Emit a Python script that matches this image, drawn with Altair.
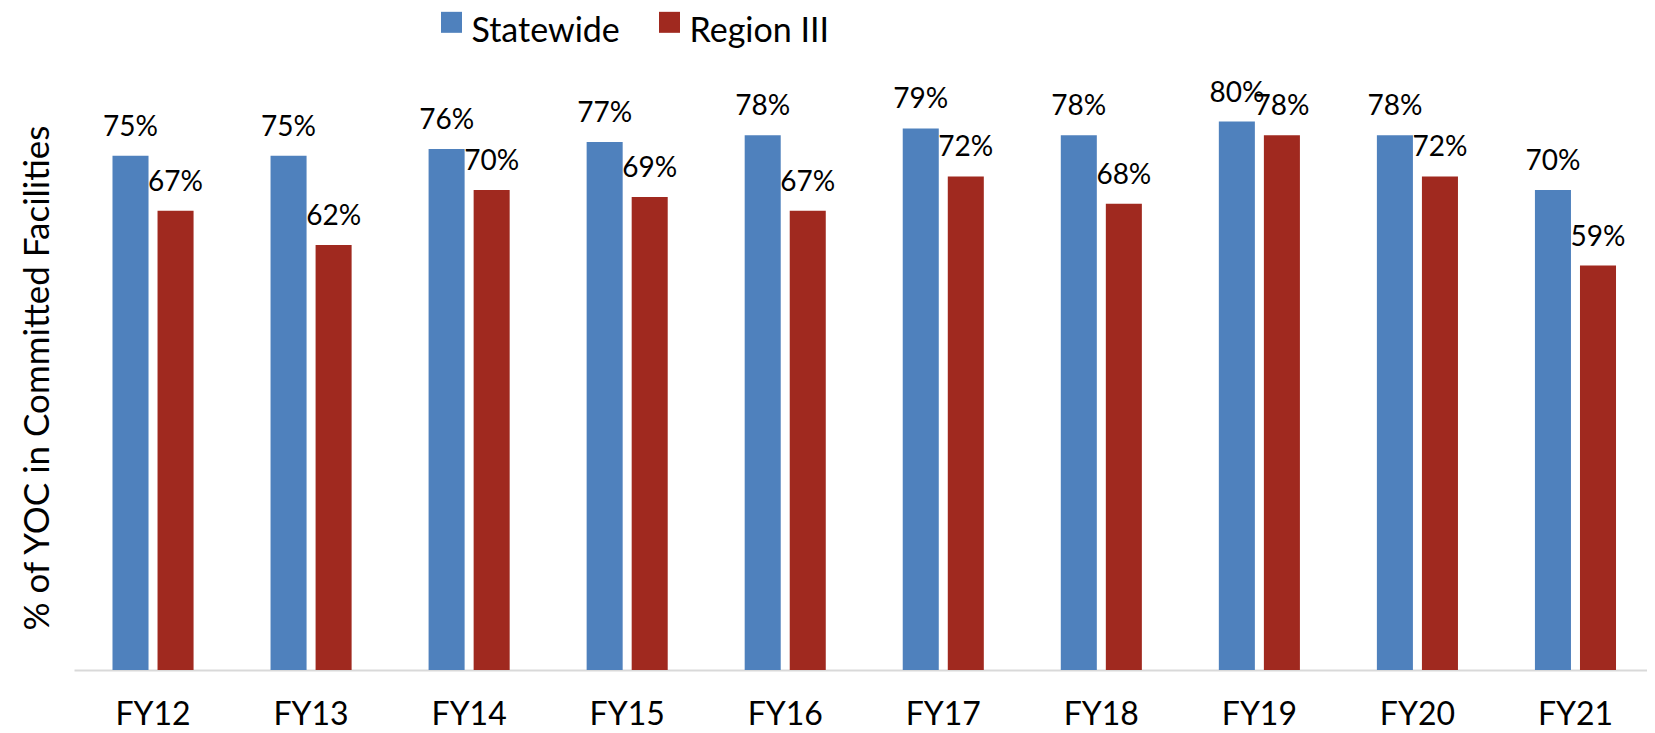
import altair as alt
import pandas as pd

# ---- data ----
years = ["FY12", "FY13", "FY14", "FY15", "FY16", "FY17", "FY18", "FY19", "FY20", "FY21"]
statewide = [0.75, 0.75, 0.76, 0.77, 0.78, 0.79, 0.78, 0.80, 0.78, 0.70]
region3 = [0.67, 0.62, 0.70, 0.69, 0.67, 0.72, 0.68, 0.78, 0.72, 0.59]
series = ["Statewide", "Region III"]
colors = ["#4F81BD", "#A0291F"]

rows = []
for i, yr in enumerate(years):
    rows.append({"year": yr, "series": series[0], "value": statewide[i]})
    rows.append({"year": yr, "series": series[1], "value": region3[i]})
df = pd.DataFrame(rows)

FONT = "Lato"
PLOT_W = 1573
PLOT_H = 617
PAD_L = 66
PAD_T = 45
PAD_B = 725 - PAD_T - PLOT_H
PAD_R = 0

x_enc = alt.X(
    "year:N",
    sort=years,
    scale=alt.Scale(paddingInner=0.487, paddingOuter=0.2198, align=0.554),
    axis=alt.Axis(
        title=None,
        labelAngle=0,
        labelFont=FONT,
        labelFontSize=32,
        labelColor="black",
        labelBaseline="alphabetic",
        labelPadding=54,
        ticks=False,
        tickSize=0,
        domainColor="#D9D9D9",
        domainWidth=2,
        grid=False,
    ),
)
xoff_enc = alt.XOffset("series:N", sort=series, scale=alt.Scale(paddingInner=0.2, paddingOuter=0))
y_enc = alt.Y(
    "value:Q",
    scale=alt.Scale(domain=[0, 0.9], nice=False, zero=True),
    axis=alt.Axis(
        title="% of YOC in Committed Facilities",
        labels=False,
        ticks=False,
        domain=False,
        grid=False,
        titleFont=FONT,
        titleFontSize=35,
        titleFontWeight="normal",
        titleColor="black",
        titleAngle=270,
        titleAlign="center",
        titleBaseline="middle",
        titleX=-36.5,
        titleY=324.5,
    ),
)

# square legend swatch drawn slightly above the label's middle line
SWATCH = "M-1,-1.95H1V0.05H-1Z"

bars = alt.Chart(df).mark_bar().encode(
    x=x_enc,
    xOffset=xoff_enc,
    y=y_enc,
    color=alt.Color(
        "series:N",
        sort=series,
        scale=alt.Scale(domain=series, range=colors),
        legend=alt.Legend(
            title=None,
            orient="none",
            direction="horizontal",
            columns=2,
            legendX=360.5,
            legendY=-37.7,
            symbolType=SWATCH,
            symbolSize=441,
            symbolStrokeWidth=0,
            labelFont=FONT,
            labelFontSize=34,
            labelColor="black",
            labelOffset=3,
            labelLimit=0,
            columnPadding=32,
            padding=0,
        ),
    ),
)

labels = alt.Chart(df).mark_text(
    baseline="alphabetic", align="center", dy=-20, font=FONT, fontSize=28, color="black"
).encode(
    x=x_enc,
    xOffset=xoff_enc,
    y=y_enc,
    text=alt.Text("value:Q", format=".0%"),
)

chart = (
    alt.layer(bars, labels)
    .properties(
        width=PLOT_W,
        height=PLOT_H,
        autosize=alt.AutoSizeParams(type="none"),
        padding={"left": PAD_L, "top": PAD_T, "right": PAD_R, "bottom": PAD_B},
        background="white",
    )
    .configure_view(stroke=None)
)

chart.save("out.html", embed_options={"renderer": "svg", "actions": False})
